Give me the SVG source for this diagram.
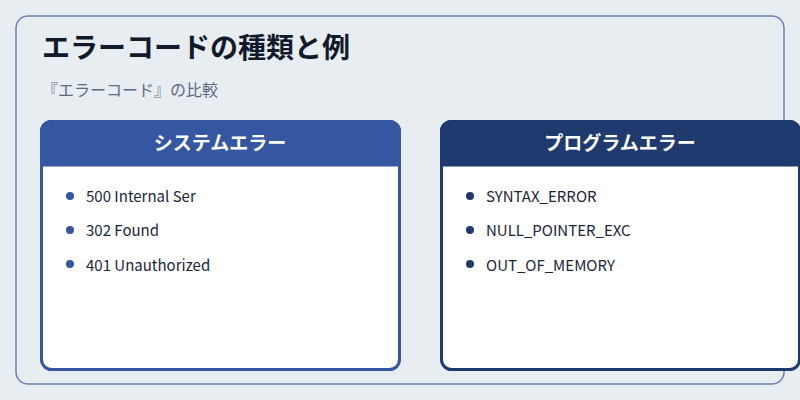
<svg xmlns="http://www.w3.org/2000/svg" width="800" height="400" viewBox="0 0 800 400">
<style>
text{font-family:"Noto Sans CJK JP","Noto Sans",sans-serif}
.hd{fill:#fff;font-size:19px;font-weight:bold;text-anchor:middle}
.it{fill:#1a2538;font-size:15px}
</style>
<rect width="800" height="400" fill="#e8edf2"/>
<rect x="16" y="16" width="768" height="368" rx="12" fill="none" stroke="#6a82b0" stroke-width="1.5"/>
<text x="42" y="58" font-size="28" font-weight="bold" fill="#111a2b">エラーコードの種類と例</text>
<text x="42" y="96" font-size="16" fill="#5a6a85">『エラーコード』の比較</text>
<g id="system">
<rect x="41.5" y="121.5" width="358" height="248" rx="10" fill="#fff" stroke="#3556a0" stroke-width="3"/>
<path d="M41.5 165V131.5a10 10 0 0 1 10-10h338a10 10 0 0 1 10 10V165z" fill="#3556a0" stroke="#3556a0" stroke-width="3"/>
<text class="hd" x="220" y="150">システムエラー</text>
<g fill="#3556a0"><circle cx="70" cy="196" r="4"/><circle cx="70" cy="230" r="4"/><circle cx="70" cy="264" r="4"/></g>
<text class="it" x="86" y="202">500 Internal Ser</text>
<text class="it" x="86" y="236">302 Found</text>
<text class="it" x="86" y="271">401 Unauthorized</text>
</g>
<g id="program">
<rect x="441.5" y="121.5" width="358" height="248" rx="10" fill="#fff" stroke="#1f3a6e" stroke-width="3"/>
<path d="M441.5 165V131.5a10 10 0 0 1 10-10h338a10 10 0 0 1 10 10V165z" fill="#1f3a6e" stroke="#1f3a6e" stroke-width="3"/>
<text class="hd" x="620" y="150">プログラムエラー</text>
<g fill="#1f3a6e"><circle cx="470" cy="196" r="4"/><circle cx="470" cy="230" r="4"/><circle cx="470" cy="264" r="4"/></g>
<text class="it" x="486" y="202">SYNTAX_ERROR</text>
<text class="it" x="486" y="236">NULL_POINTER_EXC</text>
<text class="it" x="486" y="271">OUT_OF_MEMORY</text>
</g>
<g id="connectors"/>
</svg>
